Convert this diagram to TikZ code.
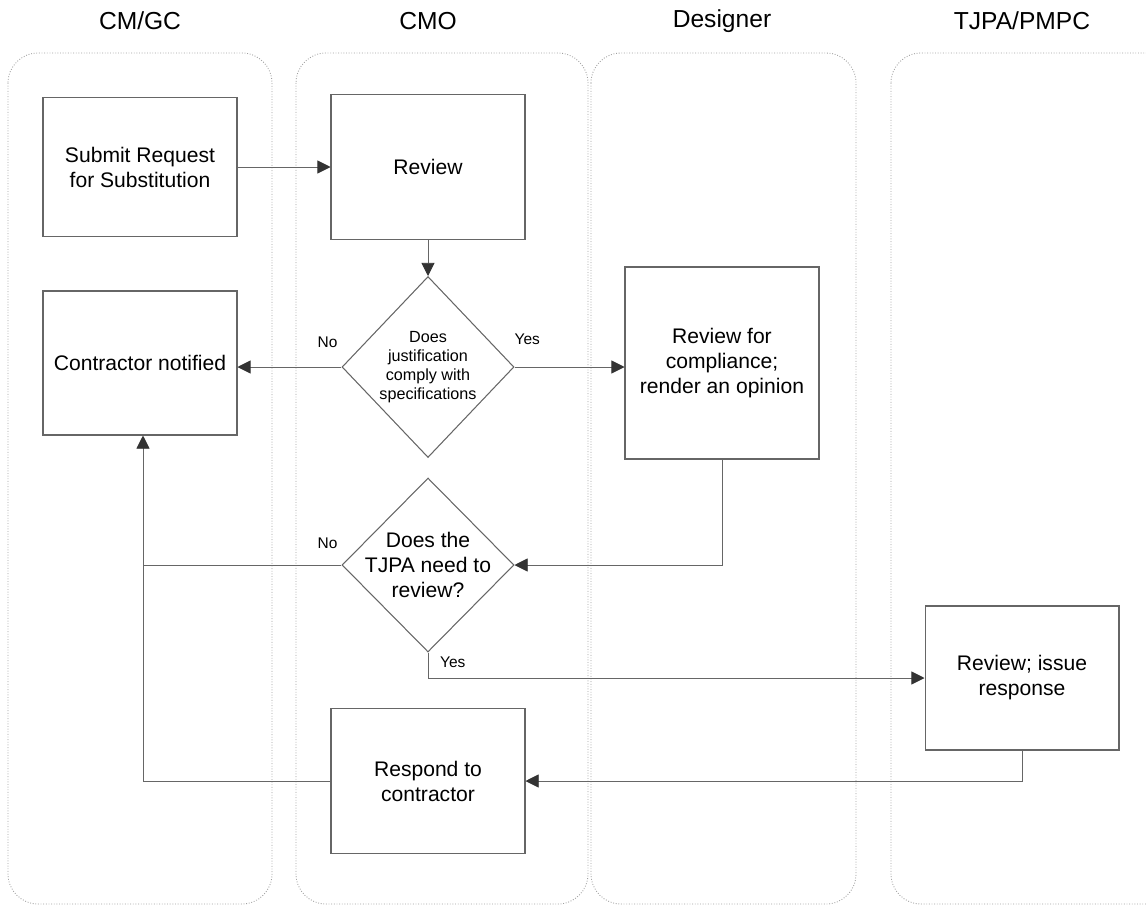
\documentclass[tikz,border=0pt]{standalone}
\usepackage{fontspec}
\setmainfont{Liberation Sans}
\usetikzlibrary{shapes.geometric,arrows.meta}

\begin{document}
\begin{tikzpicture}[x=0.02cm,y=-0.02cm]
\tikzstyle{lane}=[draw=gray!75,densely dotted,line width=0.5pt,rounded corners=0.6cm]
\tikzstyle{head}=[font=\fontsize{14}{17}\selectfont]
\tikzstyle{box}=[draw=black!60,line width=0.6pt,minimum width=3.88cm,align=center,font=\fontsize{12}{14.2}\selectfont]
\tikzstyle{ask}=[draw=black!60,line width=0.6pt,diamond,align=center,minimum width=3.44cm]
\tikzstyle{flow}=[draw=black!60,line width=0.5pt,-{Triangle[length=7.5pt,width=7.5pt,color=black!80]}]
\tikzstyle{link}=[draw=black!60,line width=0.5pt]
\tikzstyle{lbl}=[inner sep=1pt,font=\fontsize{8.8}{10}\selectfont]
\useasboundingbox (0,0) rectangle (1146,906);
\draw [lane] (8,53) rectangle (272,904);
\draw [lane] (296,53) rectangle (588,904);
\draw [lane] (591,53) rectangle (856,904);
\draw [lane] (891,53) rectangle (1180,904);
\node [head] (hcm) at (140,21) {CM/GC};
\node [head] (hcmo) at (428,21) {CMO};
\node [head] (hdes) at (722,21) {Designer};
\node [head] (htjpa) at (1022,21) {TJPA/PMPC};
\node [box,minimum height=2.78cm] (submit) at (140,167) {Submit Request\\for Substitution};
\node [box,minimum height=2.9cm] (review) at (428,167) {Review};
\node [box,minimum height=2.88cm] (notified) at (140,363) {Contractor notified};
\node [ask,minimum height=3.62cm,inner sep=-2pt,font=\fontsize{9.2}{10.8}\selectfont] (comply) at (428,367) {Does\\justification\\comply with\\specifications};
\node [box,minimum height=3.84cm] (compliance) at (722,363) {Review for\\compliance;\\render an opinion};
\node [ask,minimum height=3.48cm,inner sep=-9pt,font=\fontsize{12}{14.2}\selectfont] (tjpa) at (428,565) {Does the\\TJPA need to\\review?};
\node [box,minimum height=2.88cm] (issue) at (1022,678) {Review; issue\\response};
\node [box,minimum height=2.9cm] (respond) at (428,781) {Respond to\\contractor};
\coordinate (join) at (143,565);
\draw [flow] (submit) -- (review);
\draw [flow] (review) -- (comply);
\draw [flow] (comply.west) -- (comply.west -| notified.east);
\node [lbl,anchor=south east] (no1) at ([xshift=-0.04cm,yshift=0.34cm]comply.west) {No};
\draw [flow] (comply.east) -- (comply.east -| compliance.west);
\node [lbl,anchor=south west] (yes1) at ([xshift=-0.04cm,yshift=0.4cm]comply.east) {Yes};
\draw [flow] (compliance.south) |- (tjpa.east);
\draw [flow] (tjpa.west) -- (join) -- (join |- notified.south);
\node [lbl,anchor=south east] (no2) at ([xshift=-0.04cm,yshift=0.28cm]tjpa.west) {No};
\draw [flow] (tjpa.south) |- (issue.west);
\node [lbl,anchor=north west] (yes2) at ([xshift=0.2cm,yshift=-0.04cm]tjpa.south) {Yes};
\draw [flow] (issue.south) |- (respond.east);
\draw [link] (respond.west) -| (join);
\end{tikzpicture}
\end{document}
